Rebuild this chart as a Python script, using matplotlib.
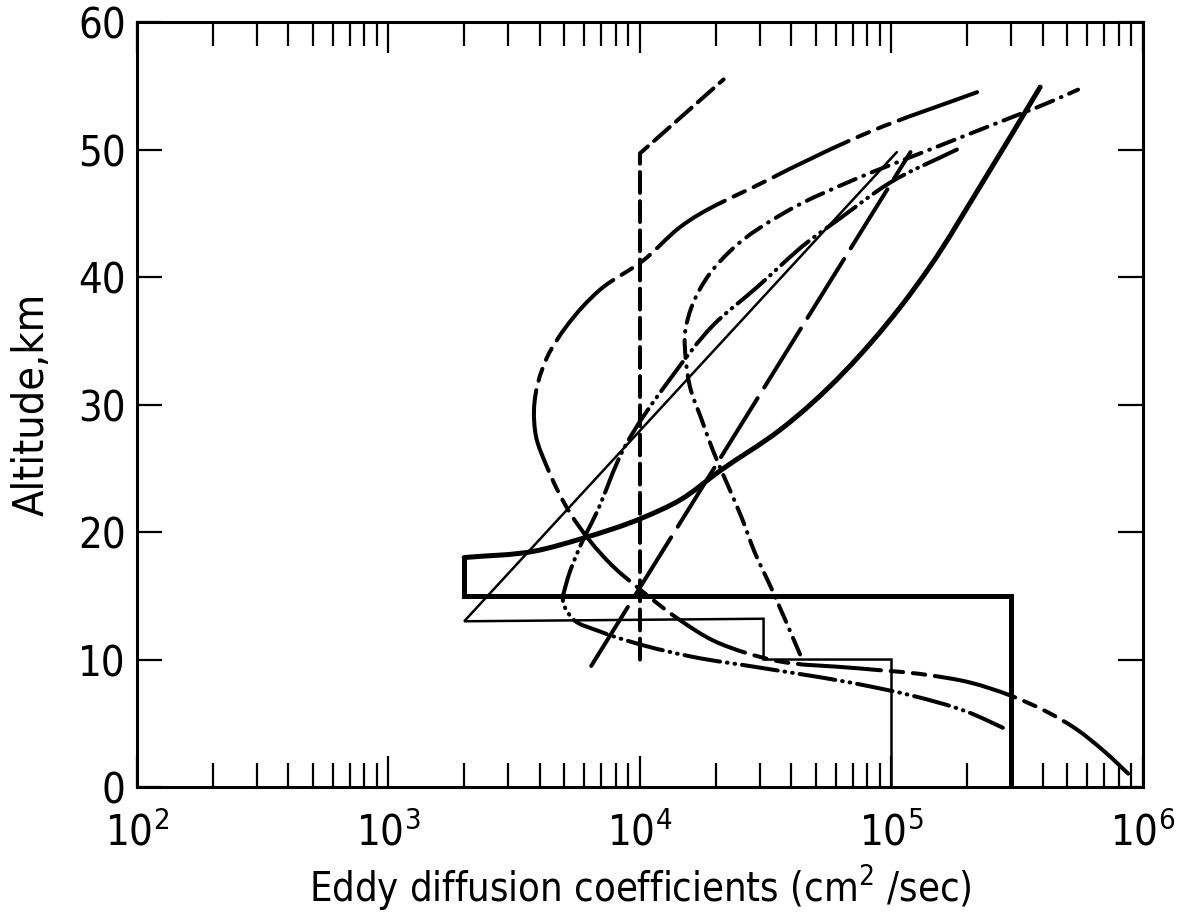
import numpy as np
import matplotlib
matplotlib.use("Agg")
import matplotlib.pyplot as plt
from matplotlib.path import Path
from matplotlib.patches import PathPatch
from matplotlib.ticker import FixedLocator, NullFormatter

plt.rcParams['font.family'] = ['DejaVu Sans']
plt.rcParams['font.stretch'] = 'condensed'
plt.rcParams['mathtext.fontset'] = 'custom'
plt.rcParams['mathtext.rm'] = 'DejaVu Sans'
plt.rcParams['lines.scale_dashes'] = False

# K in cm2/sec, z in km
# thick solid: box + curve
k_box = [3e5, 3e5, 2e3, 2e3]
z_box = [0, 15, 15, 18]
k_thick = [2e3, 3.8e3, 5.9e3, 1.02e4, 1.44e4, 2.08e4, 3.6e4,
           1.08e5, 1.42e5, 2.25e5, 3.9e5]
z_thick = [18, 18.5, 19.5, 21.1, 22.5, 24.8, 28.0,
           37.6, 40.8, 47.1, 54.9]

# thin solid: steps + straight line
k_thin = [1e5, 1e5, 3.1e4, 3.1e4, 2e3, 1.05e5]
z_thin = [0, 10, 10, 13.2, 13, 49.8]

# long dash straight line
k_long = [6.4e3, 1.19e5]
z_long = [9.5, 49.8]

# dashed
k_dash = [1e4, 1e4, 2.15e4]
z_dash = [10, 49.7, 55.5]

# long dash / short dash C-shaped curve
k_c = [2.19e5, 8.22e4, 3.14e4, 1.44e4, 1.03e4, 6.93e3, 5.13e3,
       4.27e3, 3.79e3, 3.86e3, 4.27e3, 5.27e3, 7.82e3, 1.0e4,
       1.44e4, 1.95e4, 2.66e4, 3.3e4, 7.5e4, 1.38e5, 2.05e5, 2.95e5, 4.15e5,
       5.47e5, 6.92e5, 9.12e5]
z_c = [54.5, 51.4, 47.5, 43.9, 41.3, 39.0, 36.2,
       33.7, 29.6, 27.5, 25.1, 21.5, 17.3, 15.5,
       13.1, 11.5, 10.5, 10.0, 9.3, 8.8, 8.2, 7.2, 5.9,
       4.5, 2.9, 0.7]

# dash-dot curve
k_dd = [4.33e4, 3.31e4, 2.86e4, 2.54e4, 2.22e4, 1.95e4, 1.76e4, 1.58e4, 1.52e4,
        1.51e4, 1.6e4, 1.90e4, 2.3e4, 3.87e4, 7.03e4, 1.30e5,
        2.42e5, 4.47e5, 5.52e5]
z_dd = [10.4, 15.7, 18.4, 21.1, 23.8, 26.4, 28.8, 31.4, 33.6,
        35.6, 37.6, 40.3, 42.1, 45.2, 47.6, 49.7,
        51.8, 53.9, 54.7]

# dash-dot-dot curve
k_ddd = [1.82e5, 9.86e4, 6.24e4, 4.61e4, 2.92e4, 1.95e4, 1.34e4,
         8.55e3, 6.75e3, 5.7e3, 5.1e3, 4.94e3, 5.4e3, 6.93e3,
         9.55e3, 1.63e4, 2.92e4, 7.71e4, 1.19e5, 2.0e5, 2.88e5]
z_ddd = [50.0, 47.4, 44.6, 42.7, 39.2, 36.2, 32.2,
         26.4, 21.6, 18.6, 16.0, 14.6, 13.2, 12.2,
         11.3, 10.2, 9.4, 8.0, 7.2, 5.9, 4.5]

x_ticks = [1e2, 1e3, 1e4, 1e5, 1e6]
x_ticklabels = ['$\\mathregular{10^{2}}$', '$\\mathregular{10^{3}}$', '$\\mathregular{10^{4}}$',
                '$\\mathregular{10^{5}}$', '$\\mathregular{10^{6}}$']
y_ticks = [0, 10, 20, 30, 40, 50, 60]


def smooth_patch(k, z, lw, dashes=None):
    # cubic Bezier path through the read points (chord-length tangents, log K space)
    p = np.column_stack([np.log10(k), z])
    sc = np.array([251.5, 12.75])  # roughly equal screen units
    n = len(p)
    h = np.linalg.norm(np.diff(p * sc, axis=0), axis=1)
    m = np.zeros_like(p)
    m[0] = (p[1] - p[0]) / h[0]
    m[-1] = (p[-1] - p[-2]) / h[-1]
    for i in range(1, n - 1):
        d0 = (p[i] - p[i - 1]) / h[i - 1]
        d1 = (p[i + 1] - p[i]) / h[i]
        m[i] = (d0 * h[i] + d1 * h[i - 1]) / (h[i - 1] + h[i])
    verts = [p[0]]
    codes = [Path.MOVETO]
    for i in range(n - 1):
        verts += [p[i] + m[i] * h[i] / 3, p[i + 1] - m[i + 1] * h[i] / 3, p[i + 1]]
        codes += [Path.CURVE4] * 3
    verts = np.array(verts)
    verts[:, 0] = 10 ** verts[:, 0]
    ls = 'solid' if dashes is None else (0, dashes)
    return PathPatch(Path(verts, codes), fill=False, edgecolor='black', lw=lw,
                     linestyle=ls, capstyle='round', joinstyle='round')


fig = plt.figure(figsize=(11.9, 9.19), dpi=100)
ax = fig.add_axes([0.1151, 0.1436, 0.8454, 0.8324])

ax.set_xscale('log')
ax.set_xlim(1e2, 1e6)
ax.set_ylim(0, 60)

kw = dict(color='black', solid_capstyle='round', dash_capstyle='round',
          solid_joinstyle='miter')
ax.plot(k_box, z_box, lw=3.6, **kw)
ax.add_patch(smooth_patch(k_thick, z_thick, 3.6))
ax.plot(k_thin, z_thin, lw=1.8, **kw)
ax.plot(k_long, z_long, lw=2.9, dashes=(50, 9), **kw)
ax.plot(k_dash, z_dash, lw=2.9, dashes=(15, 6), **kw)
ax.add_patch(smooth_patch(k_c, z_c, 2.9, (60, 7, 9, 7, 9, 7)))
ax.add_patch(smooth_patch(k_dd, z_dd, 2.9, (13, 6, 0.5, 6)))
ax.add_patch(smooth_patch(k_ddd, z_ddd, 2.9, (26, 5, 0.5, 5, 0.5, 5)))

ax.set_xticks(x_ticks)
ax.set_xticklabels(x_ticklabels)
ax.xaxis.set_minor_locator(FixedLocator(
    [m * 10.0 ** e for e in range(2, 6) for m in range(2, 10)]))
ax.xaxis.set_minor_formatter(NullFormatter())
ax.set_yticks(y_ticks)

for s in ax.spines.values():
    s.set_linewidth(2.2)
ax.tick_params(axis='x', which='major', direction='in', top=True, bottom=True,
               length=22, width=1.6, labelsize=30, pad=18)
ax.tick_params(axis='x', which='minor', direction='in', top=True, bottom=True,
               length=17, width=1.6)
ax.tick_params(axis='y', which='major', direction='in', left=True, right=True,
               length=18, width=1.6, labelsize=30, pad=8)

ax.set_xlabel('Eddy diffusion coefficients (cm$^{\\mathregular{2}}$ /sec)', fontsize=28.5, labelpad=6)
ax.set_ylabel('Altitude,km', fontsize=31, labelpad=18)

fig.savefig('out.png', dpi=100)
